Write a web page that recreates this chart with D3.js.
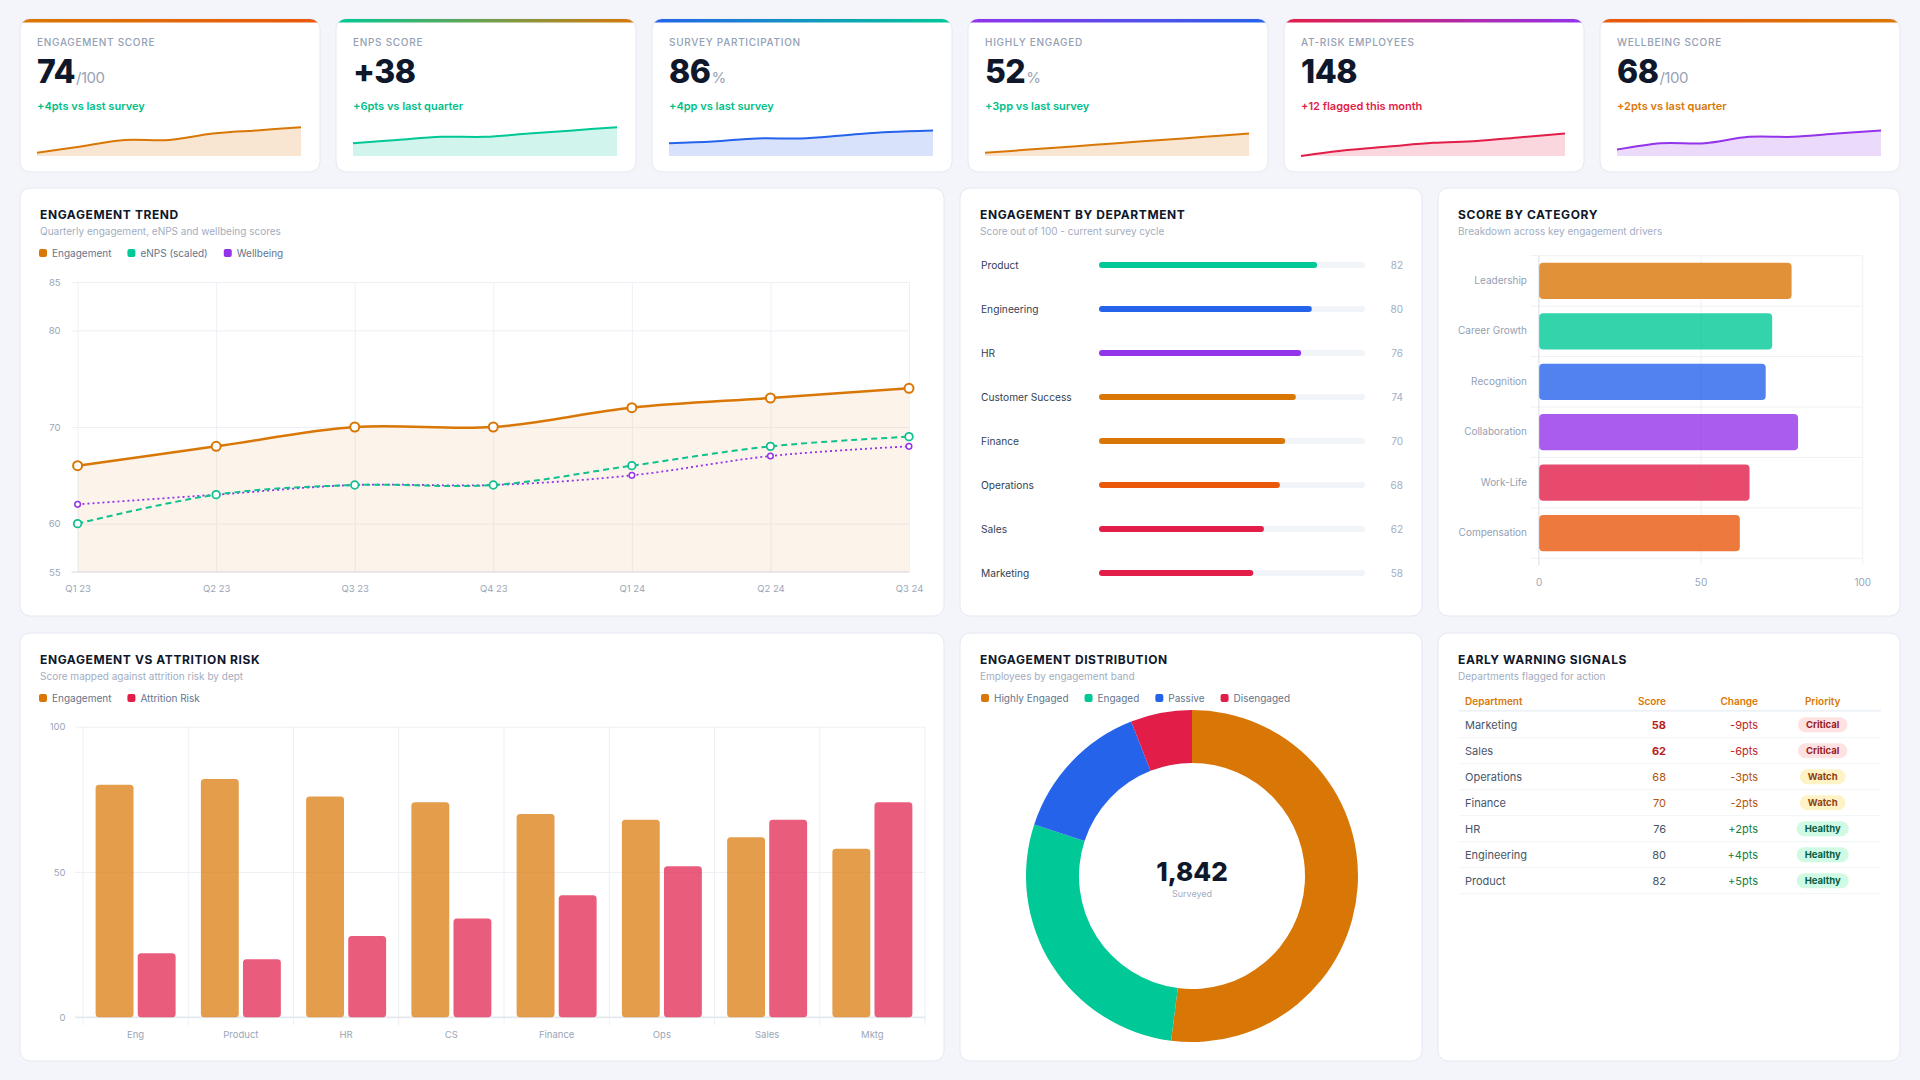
<!DOCTYPE html>
<html>
<head>
<meta charset="utf-8">
<script src="https://cdn.jsdelivr.net/npm/d3@7"></script>
<style>
html, body { margin: 0; padding: 0; background: #f3f5fa; }
svg { display: block; font-family: Inter, 'Noto Sans', sans-serif; }
.ptitle { font-size: 12px; font-weight: 700; fill: #0f172a; letter-spacing: 0.6px; dominant-baseline: central; }
.psub { font-size: 10px; fill: #a3adbf; dominant-baseline: central; }
.legend { font-size: 10px; fill: #64748b; dominant-baseline: central; }
.tick text { font-size: 9.5px; fill: #9aa5b8; font-family: Inter, sans-serif; }
.tick line { stroke: #edf0f5; }
.domain { display: none; }
</style>
</head>
<body>
<svg id="dash" width="1920" height="1080"></svg>
<script>
// ---- data ----
const kpiLabels = ['ENGAGEMENT SCORE', 'ENPS SCORE', 'SURVEY PARTICIPATION', 'HIGHLY ENGAGED', 'AT-RISK EMPLOYEES', 'WELLBEING SCORE']
const kpiValues = ['74', '+38', '86', '52', '148', '68']
const kpiUnits = ['/100', '', '%', '%', '', '/100']
const kpiDeltas = ['+4pts vs last survey', '+6pts vs last quarter', '+4pp vs last survey', '+3pp vs last survey', '+12 flagged this month', '+2pts vs last quarter']

const sparkEngagement = [66, 68, 70, 70, 72, 73, 74]
const sparkEnps = [33, 34, 35, 35, 36, 37, 38]
const sparkParticipation = [82, 82.5, 83.5, 83.5, 84.5, 85.5, 86]
const sparkHighlyEngaged = [46, 47, 48, 49, 50, 51, 52]
const sparkAtRisk = [136, 139, 141, 143, 144, 146, 148]
const sparkWellbeing = [62, 64, 64, 66, 66, 67, 68]
const sparkDomains = [[65, 75], [29, 39], [78, 88], [45, 55], [136, 153], [60, 70]]

const quarters = ['Q1 23', 'Q2 23', 'Q3 23', 'Q4 23', 'Q1 24', 'Q2 24', 'Q3 24']
const engagementTrend = [66, 68, 70, 70, 72, 73, 74]
const enpsTrend = [60, 63, 64, 64, 66, 68, 69]
const wellbeingTrend = [62, 63, 64, 64, 65, 67, 68]
const trendTicks = [55, 60, 70, 80, 85]

const deptNames = ['Product', 'Engineering', 'HR', 'Customer Success', 'Finance', 'Operations', 'Sales', 'Marketing']
const deptScores = [82, 80, 76, 74, 70, 68, 62, 58]

const categoryNames = ['Leadership', 'Career Growth', 'Recognition', 'Collaboration', 'Work-Life', 'Compensation']
const categoryScores = [78, 72, 70, 80, 65, 62]
const categoryTicks = [0, 50, 100]

const attrDepts = ['Eng', 'Product', 'HR', 'CS', 'Finance', 'Ops', 'Sales', 'Mktg']
const attrEngagement = [80, 82, 76, 74, 70, 68, 62, 58]
const attrRisk = [22, 20, 28, 34, 42, 52, 68, 74]
const attrTicks = [0, 50, 100]

const bandNames = ['Highly Engaged', 'Engaged', 'Passive', 'Disengaged']
const bandCounts = [958, 516, 258, 110]

const warnDepts = ['Marketing', 'Sales', 'Operations', 'Finance', 'HR', 'Engineering', 'Product']
const warnScores = [58, 62, 68, 70, 76, 80, 82]
const warnChanges = ['-9pts', '-6pts', '-3pts', '-2pts', '+2pts', '+4pts', '+5pts']
const warnPriority = ['Critical', 'Critical', 'Watch', 'Watch', 'Healthy', 'Healthy', 'Healthy']

// ---- colours ----
const ORANGE = '#d97706', GREEN = '#00c896', BLUE = '#2563eb', PURPLE = '#9333ea', RED = '#e11d48', DORANGE = '#ea580c'
const GRID = '#edf0f5'

let svg = d3.select('#dash')
let defs = svg.append('defs')

let card = (x, y, w, h) => {
    let g = svg.append('g').attr('transform', `translate(${x},${y})`)
    g.append('rect')
    .attr('width', w).attr('height', h).attr('rx', 10)
    .attr('fill', '#fff').attr('stroke', '#e4e8f1')
    return g
}

let panel = (x, y, w, h, title, sub) => {
    let g = card(x, y, w, h)
    g.append('text').attr('class', 'ptitle').attr('x', 20).attr('y', 26).text(title)
    g.append('text').attr('class', 'psub').attr('x', 20).attr('y', 43).text(sub)
    return g
}

let legend = (g, x, y, items) => {
    let cx = x
    items.forEach(([name, color]) => {
        g.append('rect').attr('x', cx).attr('y', y - 4).attr('width', 8).attr('height', 8).attr('rx', 2).attr('fill', color)
        let t = g.append('text').attr('class', 'legend').attr('x', cx + 13).attr('y', y).text(name)
        cx += 13 + t.node().getComputedTextLength() + 16
    })
}

// ---- KPI cards ----
let sparks = [sparkEngagement, sparkEnps, sparkParticipation, sparkHighlyEngaged, sparkAtRisk, sparkWellbeing]
let sparkColors = [ORANGE, GREEN, BLUE, ORANGE, RED, PURPLE]
let gradColors = [[ORANGE, DORANGE], [GREEN, ORANGE], [BLUE, GREEN], [PURPLE, BLUE], [RED, PURPLE], [DORANGE, ORANGE]]
let deltaColors = ['#00bf8a', '#00bf8a', '#00bf8a', '#00bf8a', RED, ORANGE]

kpiLabels.forEach((label, i) => {
    let cw = 300, ch = 153
    let g = card(20 + i * 316, 19, cw, ch)

    let grad = defs.append('linearGradient').attr('id', 'grad' + i)
    grad.append('stop').attr('offset', '0%').attr('stop-color', gradColors[i][0])
    grad.append('stop').attr('offset', '100%').attr('stop-color', gradColors[i][1])
    defs.append('clipPath').attr('id', 'clip' + i)
    .append('rect').attr('width', cw).attr('height', ch).attr('rx', 10)
    g.append('rect').attr('width', cw).attr('height', 3.5)
    .attr('fill', `url(#grad${i})`).attr('clip-path', `url(#clip${i})`)

    g.append('text').attr('x', 17).attr('y', 23)
    .style('dominant-baseline', 'central')
    .attr('font-size', 10).attr('font-weight', 500).attr('letter-spacing', 0.7).attr('fill', '#94a0b3')
    .text(label)

    let v = g.append('text').attr('x', 17).attr('y', 64)
    .attr('font-size', 32).attr('font-weight', 800).attr('fill', '#0f172a').attr('letter-spacing', -0.5)
    v.append('tspan').text(kpiValues[i])
    v.append('tspan').attr('font-size', 15).attr('font-weight', 400).attr('fill', '#98a3b6').attr('dx', 1).text(kpiUnits[i])

    g.append('text').attr('x', 17).attr('y', 87)
    .style('dominant-baseline', 'central')
    .attr('font-size', 11).attr('font-weight', 600).attr('fill', deltaColors[i])
    .text(kpiDeltas[i])

    let sx = d3.scaleLinear().domain([0, sparks[i].length - 1]).range([17, 281])
    let sy = d3.scaleLinear().domain(sparkDomains[i]).range([137, 105])
    g.append('path').datum(sparks[i])
    .attr('d', d3.area().x((d, j) => sx(j)).y0(137).y1((d) => sy(d)).curve(d3.curveCatmullRom))
    .attr('fill', sparkColors[i]).attr('fill-opacity', 0.18)
    g.append('path').datum(sparks[i])
    .attr('d', d3.line().x((d, j) => sx(j)).y((d) => sy(d)).curve(d3.curveCatmullRom))
    .attr('fill', 'none').attr('stroke', sparkColors[i]).attr('stroke-width', 2)
})

// ---- Engagement trend ----
{
    let g = panel(20, 188, 924, 428, 'ENGAGEMENT TREND', 'Quarterly engagement, eNPS and wellbeing scores')
    legend(g, 19, 65, [['Engagement', ORANGE], ['eNPS (scaled)', GREEN], ['Wellbeing', PURPLE]])

    let left = 57.6, right = 889, top = 94, bottom = 384
    let x = d3.scalePoint().domain(quarters).range([left, right])
    let y = d3.scaleLinear().domain([55, 85]).range([bottom, top])

    g.append('g').attr('transform', `translate(${left - 6},0)`)
    .call(d3.axisLeft(y).tickValues(trendTicks).tickSize(-(right - left + 6)).tickPadding(11))
    g.append('g').attr('transform', `translate(0,${bottom})`)
    .call(d3.axisBottom(x).tickSize(-(bottom - top)).tickPadding(0))
    .selectAll('text').attr('y', 17).attr('dy', '0.35em')
    g.append('line').attr('x1', left - 6).attr('x2', right).attr('y1', bottom).attr('y2', bottom)
    .attr('stroke', '#e3e7ee').attr('stroke-width', 1.5)

    let curve = d3.curveCatmullRom
    g.append('path').datum(engagementTrend)
    .attr('d', d3.area().x((d, i) => x(quarters[i])).y0(y(55)).y1((d) => y(d)).curve(curve))
    .attr('fill', ORANGE).attr('fill-opacity', 0.08)

    let series = [
        { data: wellbeingTrend, color: PURPLE, w: 1.8, dash: '2,3', r: 2.8, rw: 1.5 },
        { data: enpsTrend, color: '#10c08f', w: 2, dash: '6,4', r: 3.8, rw: 1.8 },
        { data: engagementTrend, color: ORANGE, w: 2.5, dash: null, r: 4.5, rw: 2 }
    ]
    series.forEach((s) => {
        g.append('path').datum(s.data)
        .attr('d', d3.line().x((d, i) => x(quarters[i])).y((d) => y(d)).curve(curve))
        .attr('fill', 'none').attr('stroke', s.color).attr('stroke-width', s.w)
        .attr('stroke-dasharray', s.dash)
        g.selectAll(null).data(s.data).join('circle')
        .attr('cx', (d, i) => x(quarters[i])).attr('cy', (d) => y(d)).attr('r', s.r)
        .attr('fill', '#fff').attr('stroke', s.color).attr('stroke-width', s.rw)
    })
}

// ---- Engagement by department ----
{
    let g = panel(960, 188, 462, 428, 'ENGAGEMENT BY DEPARTMENT', 'Score out of 100 - current survey cycle')
    let deptColors = [GREEN, BLUE, PURPLE, ORANGE, ORANGE, DORANGE, RED, RED]
    let x = d3.scaleLinear().domain([0, 100]).range([139, 405])
    let y = d3.scalePoint().domain(deptNames).range([77, 77 + 44 * (deptNames.length - 1)])

    let rows = g.selectAll('.dept').data(deptNames).join('g').attr('class', 'dept')
    .attr('transform', (d) => `translate(0,${y(d)})`)
    rows.append('text').attr('x', 21).style('dominant-baseline', 'central')
    .attr('font-size', 10.2).attr('fill', '#334155').text((d) => d)
    rows.append('rect').attr('x', x(0)).attr('y', -3).attr('width', x(100) - x(0)).attr('height', 6)
    .attr('rx', 3).attr('fill', '#f1f4f8')
    rows.append('rect').attr('x', x(0)).attr('y', -3).attr('width', (d, i) => x(deptScores[i]) - x(0)).attr('height', 6)
    .attr('rx', 3).attr('fill', (d, i) => deptColors[i])
    rows.append('text').attr('x', 443).attr('text-anchor', 'end').style('dominant-baseline', 'central')
    .attr('font-size', 10).attr('fill', '#a3adbf').text((d, i) => deptScores[i])
}

// ---- Score by category ----
{
    let g = panel(1438, 188, 462, 428, 'SCORE BY CATEGORY', 'Breakdown across key engagement drivers')
    let catColors = [ORANGE, GREEN, BLUE, PURPLE, RED, DORANGE]
    let top = 67.7, bottom = 370.3
    let x = d3.scaleLinear().domain([0, 100]).range([100.7, 424.3])
    let y = d3.scaleBand().domain(categoryNames).range([top, bottom])

    g.append('g').attr('transform', `translate(0,${bottom + 7})`)
    .call(d3.axisBottom(x).tickValues(categoryTicks).tickSize(-(bottom - top + 7)).tickPadding(0))
    .call((a) => a.selectAll('text').attr('y', 17).attr('dy', '0.35em').style('font-size', '10px'))
    d3.range(categoryNames.length + 1).forEach((i) => {
        g.append('line').attr('x1', x(0) - 8).attr('x2', x(100))
        .attr('y1', top + i * y.bandwidth()).attr('y2', top + i * y.bandwidth())
        .attr('stroke', GRID)
    })
    g.append('line').attr('x1', x(0)).attr('x2', x(0)).attr('y1', top).attr('y2', bottom + 7).attr('stroke', '#e3e7ee')

    let bh = y.bandwidth() * 0.72
    g.selectAll('.cbar').data(categoryNames).join('rect').attr('class', 'cbar')
    .attr('x', x(0) + 0.5).attr('y', (d) => y(d) + (y.bandwidth() - bh) / 2)
    .attr('width', (d, i) => x(categoryScores[i]) - x(0)).attr('height', bh)
    .attr('rx', 4).attr('fill', (d, i) => catColors[i]).attr('fill-opacity', 0.8)
    g.selectAll('.clab').data(categoryNames).join('text').attr('class', 'clab')
    .attr('x', 89).attr('y', (d) => y(d) + y.bandwidth() / 2 - 1).attr('text-anchor', 'end')
    .style('dominant-baseline', 'central').attr('font-size', 10).attr('fill', '#94a0b4').text((d) => d)
}

// ---- Engagement vs attrition risk ----
{
    let g = panel(20, 633, 924, 428, 'ENGAGEMENT VS ATTRITION RISK', 'Score mapped against attrition risk by dept')
    legend(g, 19, 65, [['Engagement', ORANGE], ['Attrition Risk', RED]])
    let left = 63, right = 905, top = 93.7, bottom = 384.3
    let x0 = d3.scaleBand().domain(attrDepts).range([left, right])
    let x1 = d3.scaleBand().domain(['eng', 'risk']).range([x0.bandwidth() * 0.1, x0.bandwidth() * 0.9])
    let y = d3.scaleLinear().domain([0, 100]).range([bottom, top])

    g.append('g').attr('transform', `translate(${left - 8},0)`)
    .call(d3.axisLeft(y).tickValues(attrTicks).tickSize(-(right - left + 8)).tickPadding(9.5))
    d3.range(attrDepts.length + 1).forEach((i) => {
        let xx = left + i * x0.bandwidth()
        g.append('line').attr('x1', xx).attr('x2', xx).attr('y1', top).attr('y2', bottom + 8).attr('stroke', GRID)
    })
    g.append('line').attr('x1', left - 8).attr('x2', right).attr('y1', bottom).attr('y2', bottom)
    .attr('stroke', '#e3e7ee').attr('stroke-width', 1.5)
    g.selectAll('.xlab').data(attrDepts).join('text').attr('class', 'xlab')
    .attr('x', (d) => x0(d) + x0.bandwidth() / 2).attr('y', 401).attr('text-anchor', 'middle')
    .style('dominant-baseline', 'central').attr('font-size', 9.5).attr('fill', '#9aa5b8').text((d) => d)

    let bw = x1.bandwidth() * 0.9
    let groups = [['eng', attrEngagement, ORANGE], ['risk', attrRisk, RED]]
    groups.forEach(([key, vals, color]) => {
        g.selectAll('.b' + key).data(attrDepts).join('rect').attr('class', 'b' + key)
        .attr('x', (d) => x0(d) + x1(key) + (x1.bandwidth() - bw) / 2)
        .attr('y', (d, i) => y(vals[i]))
        .attr('width', bw).attr('height', (d, i) => y(0) - y(vals[i]))
        .attr('rx', 3.5).attr('fill', color).attr('fill-opacity', 0.72)
    })
}

// ---- Engagement distribution ----
{
    let g = panel(960, 633, 462, 428, 'ENGAGEMENT DISTRIBUTION', 'Employees by engagement band')
    let bandColors = [ORANGE, GREEN, BLUE, RED]
    legend(g, 21, 65, bandNames.map((d, i) => [d, bandColors[i]]))
    let pie = d3.pie().sort(null).value((d) => d)
    let arc = d3.arc().innerRadius(113).outerRadius(166)
    let dg = g.append('g').attr('transform', 'translate(232,243)')
    dg.selectAll('path').data(pie(bandCounts)).join('path')
    .attr('d', arc).attr('fill', (d, i) => bandColors[i])
    dg.append('text').attr('y', -5).attr('text-anchor', 'middle').style('dominant-baseline', 'central')
    .attr('font-size', 26).attr('font-weight', 800).attr('fill', '#0f172a')
    .text(d3.format(',')(d3.sum(bandCounts)))
    dg.append('text').attr('y', 17).attr('text-anchor', 'middle').style('dominant-baseline', 'central')
    .attr('font-size', 9).attr('fill', '#a3adbf').text('Surveyed')
}

// ---- Early warning signals ----
{
    let g = panel(1438, 633, 462, 428, 'EARLY WARNING SIGNALS', 'Departments flagged for action')
    let scoreCol = { Critical: '#b91c1c', Watch: '#b45309', Healthy: '#475569' }
    let changeCol = { Critical: '#c02626', Watch: '#b45309', Healthy: '#15803d' }
    let badge = {
        Critical: ['#fee2e2', '#991b1b'],
        Watch: ['#fef3c7', '#92400e'],
        Healthy: ['#d1fae5', '#065f46']
    }
    let head = [['Department', 27, 'start'], ['Score', 228, 'end'], ['Change', 320, 'end'], ['Priority', 384.7, 'middle']]
    head.forEach(([t, hx, anchor]) => {
        g.append('text').attr('x', hx).attr('y', 68).attr('text-anchor', anchor).style('dominant-baseline', 'central')
        .attr('font-size', 10).attr('font-weight', 600).attr('fill', ORANGE).text(t)
    })
    g.append('line').attr('x1', 21).attr('x2', 443).attr('y1', 77.7).attr('y2', 77.7)
    .attr('stroke', '#eef2f7').attr('stroke-width', 2)

    let rows = g.selectAll('.wrow').data(warnDepts).join('g').attr('class', 'wrow')
    .attr('transform', (d, i) => `translate(0,${91.7 + 26 * i})`)
    rows.append('line').attr('x1', 21).attr('x2', 443).attr('y1', 13).attr('y2', 13).attr('stroke', '#f1f4f8')
    rows.append('text').attr('x', 27).style('dominant-baseline', 'central')
    .attr('font-size', 11).attr('fill', '#475569').text((d) => d)
    rows.append('text').attr('x', 228).attr('text-anchor', 'end').style('dominant-baseline', 'central')
    .attr('font-size', 11).attr('font-weight', (d, i) => warnPriority[i] === 'Critical' ? 700 : 400)
    .attr('fill', (d, i) => scoreCol[warnPriority[i]]).text((d, i) => warnScores[i])
    rows.append('text').attr('x', 320).attr('text-anchor', 'end').style('dominant-baseline', 'central')
    .attr('font-size', 11).attr('fill', (d, i) => changeCol[warnPriority[i]]).text((d, i) => warnChanges[i])
    rows.each(function (d, i) {
        let r = d3.select(this)
        let p = warnPriority[i]
        let rect = r.append('rect').attr('y', -7.5).attr('height', 15).attr('rx', 7.5).attr('fill', badge[p][0])
        let t = r.append('text').attr('x', 384.7).attr('text-anchor', 'middle').style('dominant-baseline', 'central')
        .attr('font-size', 9.5).attr('font-weight', 700).attr('fill', badge[p][1]).text(p)
        let tw = t.node().getComputedTextLength() + 16
        rect.attr('x', 384.7 - tw / 2).attr('width', tw)
    })
}
</script>
</body>
</html>
